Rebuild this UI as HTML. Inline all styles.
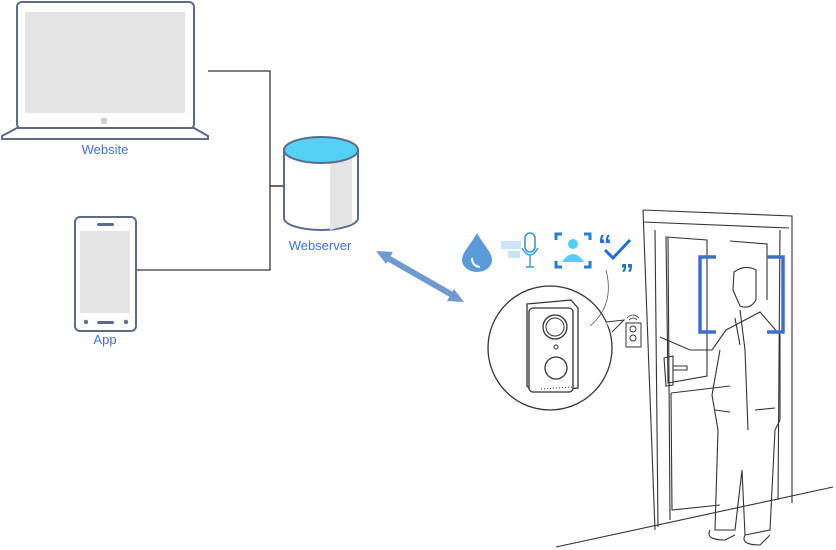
<!DOCTYPE html>
<html><head><meta charset="utf-8"><style>
html,body{margin:0;padding:0;background:#fff;}
svg{display:block;}
text{font-family:"Liberation Sans",sans-serif;}
</style></head><body>
<svg width="836" height="550" viewBox="0 0 836 550" xmlns="http://www.w3.org/2000/svg">
<!-- Laptop -->
<rect x="17" y="2" width="177" height="127" rx="5" fill="#fff" stroke="#5a6b8c" stroke-width="2"/>
<rect x="25" y="12" width="160" height="101" fill="#e4e4e4"/>
<rect x="101" y="118" width="6" height="6" fill="#cfcfcf"/>
<path d="M17 128 L194 128 L208 136 L208 139 L2 139 L2 136 Z" fill="#fff" stroke="#5a6b8c" stroke-width="2"/>
<text x="105" y="154" font-size="13" fill="#3f72d4" text-anchor="middle">Website</text>
<!-- connectors -->
<polyline points="208,71 270,71 270,270 136,270" fill="none" stroke="#333" stroke-width="1.3"/>
<line x1="270" y1="186" x2="284" y2="186" stroke="#333" stroke-width="1.5"/>
<!-- Webserver cylinder -->
<path d="M284 150 L284 218 A37 12 0 0 0 358 218 L358 150" fill="#fff" stroke="#5a6b8c" stroke-width="2"/>
<path d="M330 161 L352 158 L352 224 L330 230 Z" fill="#e4e4e4"/>
<ellipse cx="321" cy="150" rx="37" ry="13" fill="#55d0f5" stroke="#5a6b8c" stroke-width="2"/>
<text x="320" y="250" font-size="13" fill="#3f72d4" text-anchor="middle">Webserver</text>
<!-- Phone -->
<rect x="75" y="217" width="61" height="114" rx="5" fill="#fff" stroke="#5a6b8c" stroke-width="2"/>
<rect x="80" y="231" width="50" height="82" fill="#e4e4e4"/>
<rect x="97" y="223" width="17" height="3" rx="1.5" fill="#5a6b8c"/>
<rect x="97" y="321" width="17" height="3" rx="1.5" fill="#5a6b8c"/>
<circle cx="86" cy="322" r="2.2" fill="#5a6b8c"/><circle cx="126" cy="322" r="2.2" fill="#5a6b8c"/>
<text x="105" y="344" font-size="13" fill="#3f72d4" text-anchor="middle">App</text>
<!-- double arrow -->
<line x1="386" y1="257" x2="454" y2="296" stroke="#6f9ad0" stroke-width="6"/>
<polygon points="376,251 393,252 386,264" fill="#6f9ad0"/>
<polygon points="464,302 447,301 454,289" fill="#6f9ad0"/>
<!-- icons -->
<path d="M477 233 C470 246 462 252 462 260 A15 12 0 0 0 492 260 C492 252 484 246 477 233 Z" fill="#5a9ad8"/>
<path d="M472 258 Q472 266 480 267" fill="none" stroke="#fff" stroke-width="2"/>
<rect x="501" y="241" width="20" height="8" fill="#c9e6f8"/>
<rect x="508" y="251" width="12" height="7" fill="#c9e6f8"/>
<rect x="525" y="233" width="10" height="19" rx="5" fill="none" stroke="#3a95e0" stroke-width="1.6"/>
<path d="M522 248 Q530 262 538 248 M530 256 L530 267 M526 267 L534 267" fill="none" stroke="#3a95e0" stroke-width="1.4"/>
<path d="M556 240 V234 H562 M584 234 H590 V240 M556 261 V267 H562 M584 267 H590 V261" fill="none" stroke="#1f7fd8" stroke-width="3"/>
<circle cx="573" cy="244" r="5" fill="#4fd0f5"/>
<path d="M562 262 Q573 246 584 262 Z" fill="#4fd0f5"/>
<text x="598" y="254" font-size="28" font-weight="bold" fill="#1f6fd8">“</text>
<text x="620" y="283" font-size="28" font-weight="bold" fill="#1f6fd8">”</text>
<path d="M605 250 L613 258 L630 240" fill="none" stroke="#1f6fd8" stroke-width="3"/>
<!-- magnifier circle -->
<circle cx="550" cy="348" r="62" fill="#fff" stroke="#333" stroke-width="1.3"/>
<path d="M606 322 L624 320 L612 332" fill="#fff" stroke="#333" stroke-width="1"/>
<path d="M527 304 L571 300 L578 308 L578 388 L533 392 L527 386 Z" fill="#fff" stroke="#333" stroke-width="1.3"/>
<rect x="529" y="308" width="44" height="84" rx="4" fill="#fff" stroke="#333" stroke-width="1.3"/>
<circle cx="555" cy="327" r="12" fill="#fff" stroke="#333" stroke-width="1.3"/>
<circle cx="555" cy="327" r="9" fill="none" stroke="#333" stroke-width="1"/>
<circle cx="556" cy="347" r="2" fill="none" stroke="#333"/>
<circle cx="556" cy="368" r="11" fill="#fff" stroke="#333" stroke-width="1.3"/>
<line x1="541" y1="389" x2="573" y2="387" stroke="#333" stroke-dasharray="1 2"/>
<path d="M606 270 Q615 305 590 326" fill="none" stroke="#555" stroke-width="0.8"/>
<!-- small doorbell -->
<rect x="626" y="323" width="15" height="24" fill="#fff" stroke="#333"/>
<circle cx="633" cy="329" r="3" fill="none" stroke="#333"/><circle cx="633" cy="338" r="3" fill="none" stroke="#333"/>
<path d="M627 318 Q633 312 639 318 M629 320 Q633 316 637 320" fill="none" stroke="#333" stroke-width="0.8"/>
<!-- door -->
<g fill="none" stroke="#333" stroke-width="1.1">
<path d="M643 210 L792 216 L792 503 M643 210 L655 530 M643 222 L789 228"/>
<path d="M655 230 L658 527 M668 238 L670 520 M780 230 L778 500"/>
<path d="M666 237 L707 240 L707 376 L668 383 Z"/>
<path d="M730 241 L767 244 L767 300"/>
<path d="M671 393 L730 386 M671 393 L672 510 L720 505"/>
<path d="M664 358 L673 356 L673 385 L666 386 Z M673 366 L687 366 L687 370 L673 370"/>
<!-- man -->
<path d="M734 272 Q745 264 756 270 L756 300 Q750 310 740 306 L733 290 Z"/>
<path d="M726 330 L760 312 L780 335 L780 420 L775 430 L770 530 L745 535 L742 470 L735 530 L715 530 L718 430 L712 395 L720 350"/>
<path d="M726 330 L712 350 L690 350 L660 337"/>
<path d="M740 310 L745 350 L748 430 M735 318 L740 345"/>
<path d="M710 530 Q705 540 725 540 L735 535 M745 535 Q740 545 760 545 L770 535"/>
<path d="M715 410 L730 412 M755 410 L775 408"/>
<path d="M556 547 L833 487"/>
</g>
<!-- blue brackets -->
<path d="M716 257 H700 V332 H716 M767 257 H783 V332 H767" fill="none" stroke="#3e6fc8" stroke-width="3.5"/>
</svg>
</body></html>
